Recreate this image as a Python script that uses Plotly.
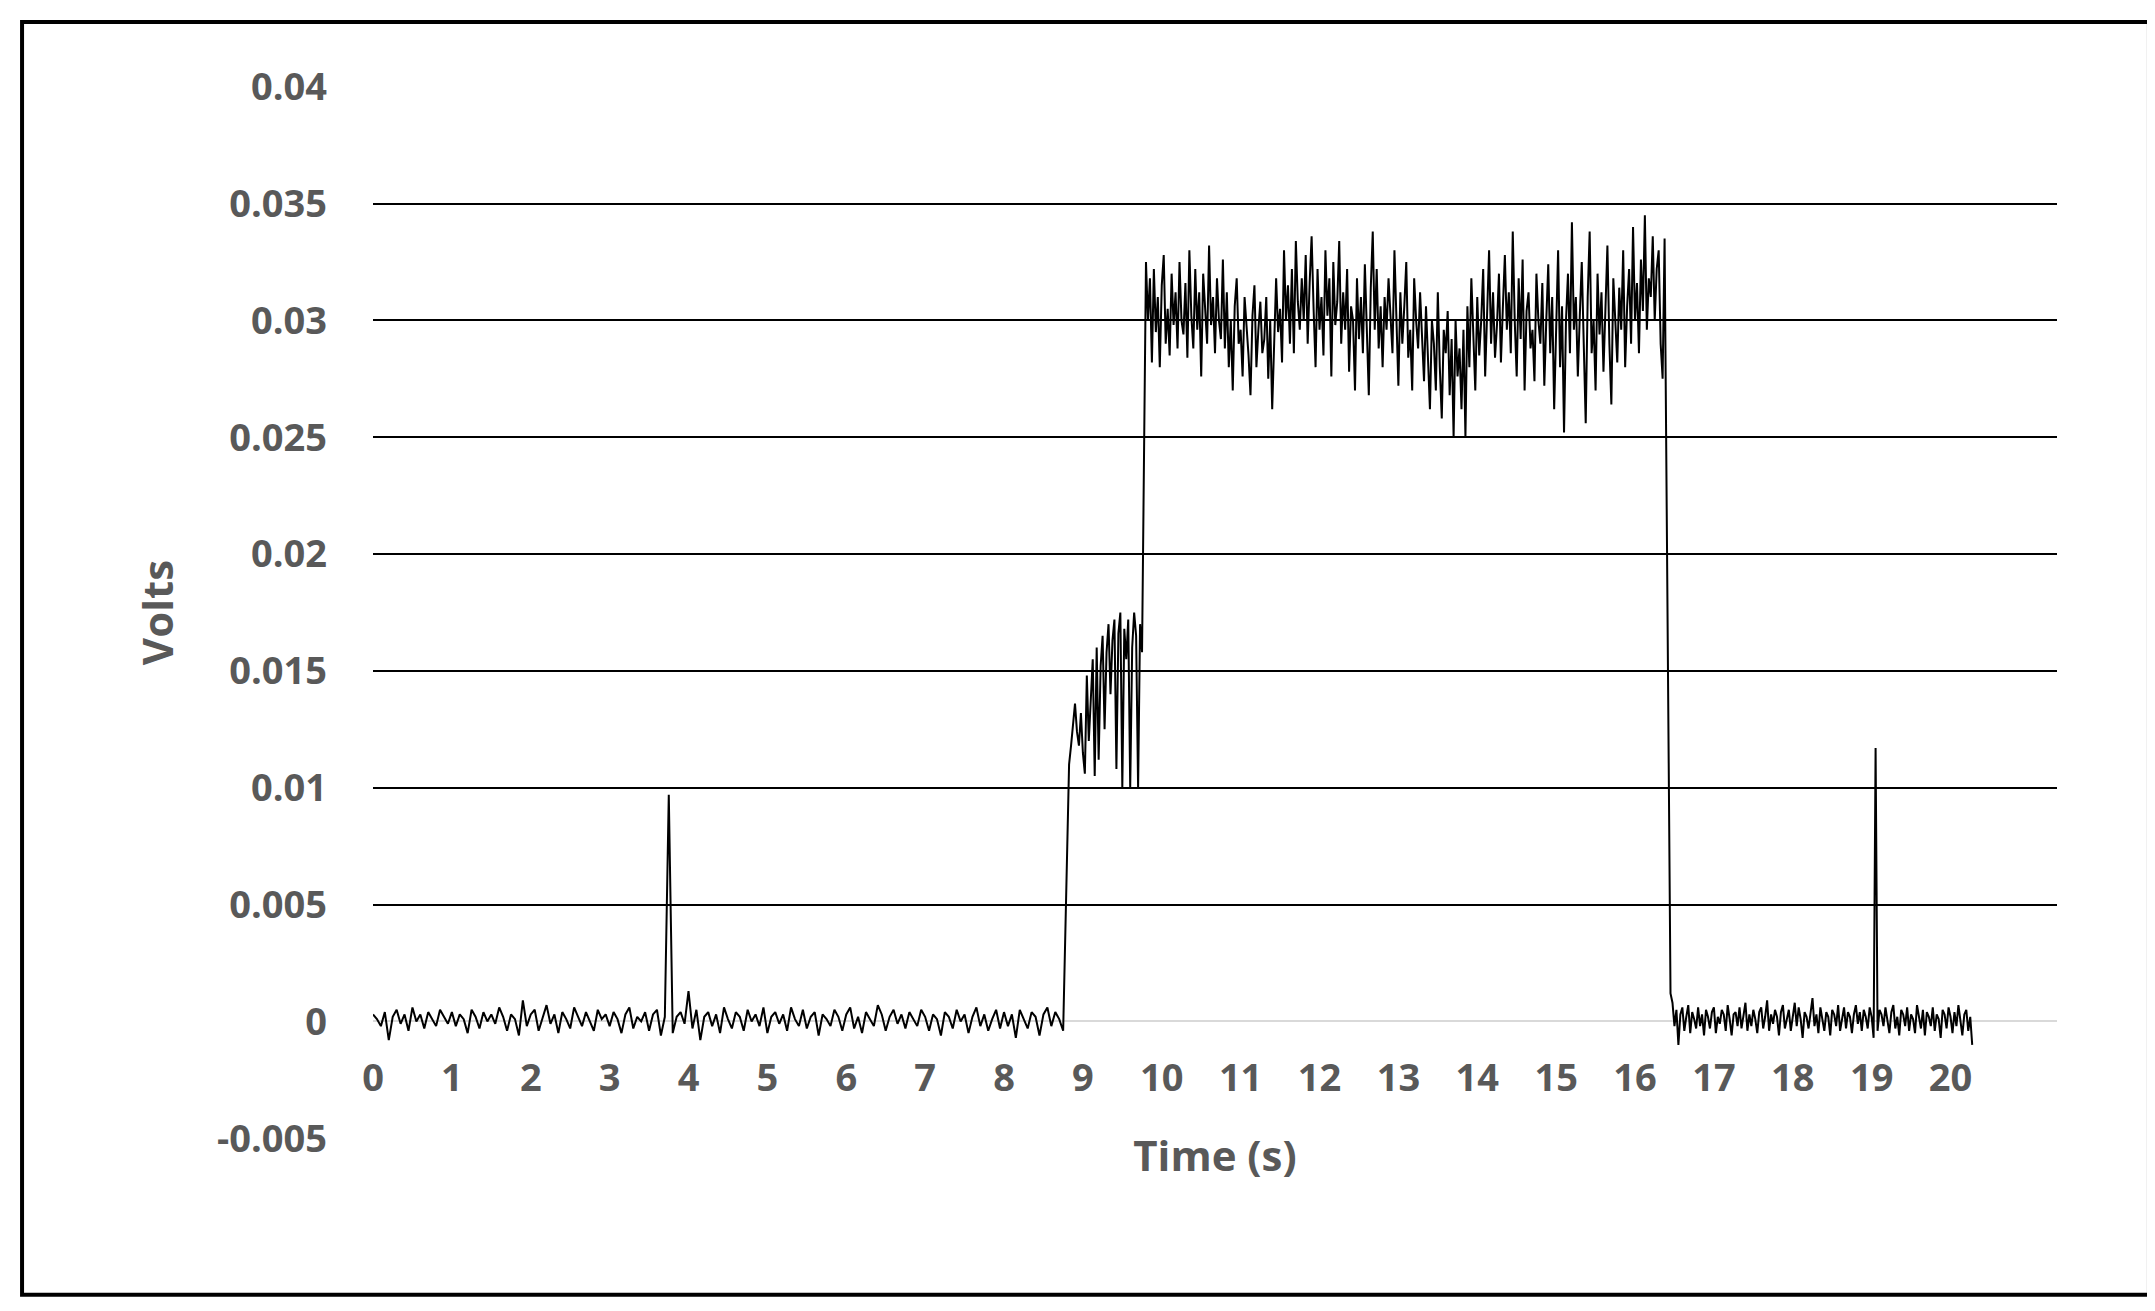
import numpy as np
import plotly.graph_objects as go

# signal readings, in units of 1e-4 V, per segment (start time, sample step)
base1_start, base1_step = 0.0, 0.05
base1 = [3, 1, -2, 4, -8, 2, 5, -1, 3, -4, 6, 0, 3, -3, 4, 1, -2, 5, 2, -1,
         4, -2, 3, 1, -5, 5, 2, -3, 4, 0, 3, -1, 6, 2, -4, 3, 1, -6, 9, -2,
         3, 5, -4, 2, 7, -1, 3, -5, 4, 1, -3, 6, 2, -2, 4, 0, -4, 5, 1, 3,
         -2, 4, 1, -5, 3, 6, -3, 2, 0, 4, -4, 3, 5, -6, 2, 97, -5, 2, 4, -1,
         13, -3, 5, -8, 2, 4, -2, 3, -5, 6, 1, -3, 4, 2, -4, 5, 0, 3, -2, 6,
         -5, 2, 4, -1, 3, -4, 6, 1, -2, 5, -3, 2, 4, -6, 3, 1, -2, 5, 2, -4,
         3, 6, -3, 2, -5, 4, 1, -2, 7, 3, -4, 2, 5, -1, 3, -3, 4, 1, -2, 5,
         2, -4, 3, 1, -6, 4, 2, -3, 5, 0, 3, -5, 2, 6, -2, 3, -4, 1, 5, -3,
         4, -2, 3, -7, 5, 1, -3, 4, 2, -6, 3, 6, -2, 4, 1, -4]

mid_start, mid_step = 8.825, 0.025
mid = [110, 118, 128, 136, 124, 118, 132, 115, 106, 148, 120, 135, 155, 105, 160, 112,
       152, 165, 125, 158, 170, 140, 163, 172, 108, 166, 175, 100, 168, 155, 172, 100,
       160, 175, 165, 100, 170, 158]

high_start, high_step = 9.8, 0.025
high = [325, 300, 318, 282, 322, 295, 310, 280, 315, 328, 290, 305, 285, 320, 298, 312, 288, 325, 300, 294,
        316, 284, 330, 302, 288, 322, 296, 312, 276, 320, 305, 290, 332, 298, 310, 286, 318, 300, 292, 326,
        288, 312, 280, 300, 270, 306, 318, 290, 296, 276, 310, 298, 285, 268, 302, 315, 280, 296, 308, 286,
        292, 310, 275, 300, 262, 290, 318, 295, 305, 282, 330, 300, 315, 290, 322, 286, 334, 308, 296, 318,
        300, 328, 290, 316, 336, 305, 280, 322, 296, 310, 285, 330, 302, 318, 276, 325, 298, 308, 334, 290,
        312, 296, 322, 278, 306, 300, 270, 318, 292, 310, 286, 324, 300, 268, 314, 338, 296, 322, 288, 306,
        280, 310, 296, 318, 302, 286, 330, 300, 272, 312, 290, 306, 325, 284, 296, 270, 318, 300, 288, 312,
        296, 274, 306, 284, 262, 300, 290, 270, 312, 280, 258, 296, 286, 304, 268, 292, 250, 300, 276, 288,
        262, 296, 250, 306, 280, 318, 290, 270, 310, 285, 300, 322, 276, 308, 330, 290, 312, 284, 298, 320,
        282, 306, 328, 296, 312, 286, 338, 300, 276, 318, 292, 326, 270, 304, 312, 288, 296, 274, 320, 300,
        290, 316, 272, 300, 324, 286, 310, 262, 296, 330, 280, 306, 252, 300, 320, 286, 342, 296, 310, 276,
        302, 325, 290, 256, 310, 338, 286, 300, 270, 320, 294, 312, 278, 306, 332, 290, 264, 318, 300, 282,
        314, 296, 330, 280, 306, 322, 290, 340, 300, 316, 286, 326, 304, 345, 296, 318, 310, 336, 300, 322,
        330, 290, 275, 335]

base2_start, base2_step = 16.45, 0.025
base2 = [12, 8, -2, 5, -10, 3, 6, -4, 2, 7, -5, 4, 1, -3, 6, -2, 3, -6, 5, 2,
         -3, 4, 6, -5, 2, -1, 5, 3, -4, 7, 1, -6, 3, 4, -2, 6, -3, 2, 8, -4,
         3, -2, 5, 1, -5, 4, 6, -3, 2, 9, -4, 3, -1, 5, 2, -6, 4, 7, -3, 1,
         5, -4, 3, 8, -2, 6, 1, -7, 4, 2, -3, 5, 10, -2, 3, -5, 6, 1, -4, 4,
         2, -6, 5, 3, -2, 7, -4, 1, 6, -3, 4, 2, -5, 3, 7, -1, 4, -4, 5, 2,
         -3, 6, 2, -7, 117, -4, 5, 3, -2, 6, 1, -5, 4, 7, -3, 2, -6, 5, 3, -2,
         6, -4, 3, 1, -5, 7, 2, -3, 5, -6, 4, 2, -2, 6, -4, 3, 1, -7, 5, 3,
         -3, 6, 2, -5, 4, -2, 7, 1, -6, 3, 5, -4, 2, -10]

x_ticks = list(range(0, 21))
y_ticks = [-0.005, 0, 0.005, 0.01, 0.015, 0.02, 0.025, 0.03, 0.035, 0.04]
y_labels = ["-0.005", "0", "0.005", "0.01", "0.015", "0.02", "0.025", "0.03", "0.035", "0.04"]

segments = [(base1_start, base1_step, base1), (mid_start, mid_step, mid),
            (high_start, high_step, high), (base2_start, base2_step, base2)]

t = np.concatenate([s + st * np.arange(len(v)) for s, st, v in segments])
volts = np.concatenate([np.array(v) * 1e-4 for _, _, v in segments])

grey = "#595959"
tick_font = dict(family="Open Sans", size=38, color=grey, weight="bold")

fig = go.Figure(go.Scatter(x=t, y=volts, mode="lines",
                           line=dict(color="black", width=2), hoverinfo="skip"))

fig.update_layout(
    width=2155, height=1311,
    margin=dict(l=365, r=106, t=78, b=180),
    plot_bgcolor="white", paper_bgcolor="white",
    showlegend=False,
    shapes=[dict(type="rect", xref="paper", yref="paper",
                 x0=-0.2084, x1=1.0546, y0=-0.148, y1=1.0608,
                 line=dict(color="black", width=4))],
)
fig.update_xaxes(
    range=[0, 21.35], tickvals=x_ticks,
    showgrid=False, zeroline=False, showline=False,
    anchor="free", position=0.111, ticks="", ticklabelstandoff=30,
    tickfont=tick_font,
    title=dict(text="Time (s)", standoff=40,
               font=dict(family="Open Sans", size=42, color=grey, weight="bold")),
)
fig.update_yaxes(
    range=[-0.00503, 0.04003], tickvals=y_ticks, ticktext=y_labels,
    showgrid=True, gridcolor="black", gridwidth=2.2,
    zeroline=True, zerolinecolor="#d9d9d9", zerolinewidth=2,
    ticks="", ticklabelstandoff=45,
    tickfont=tick_font,
    title=dict(text="Volts", standoff=30,
               font=dict(family="Open Sans", size=42, color=grey, weight="bold")),
)

fig.write_html("out.html")
